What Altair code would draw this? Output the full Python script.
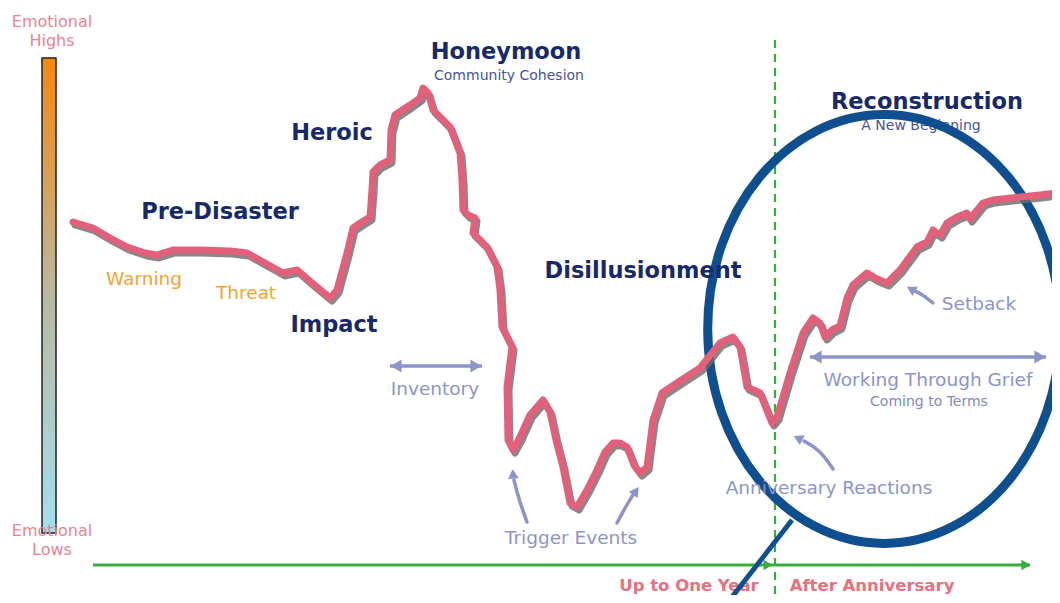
import altair as alt
import pandas as pd

# ---- data (time position, emotional level as drawn) ----
curve_t = [73, 93, 110, 127, 145, 157, 173, 200, 230, 247, 265, 283, 297, 312, 330, 337, 347, 353, 362, 370,
           372, 373, 380, 390, 391, 395, 410, 420, 423, 428, 433, 450, 460, 462, 463, 468, 475, 473, 487, 497,
           500, 502, 512, 507, 508, 513, 520, 530, 543, 550, 556, 563, 570, 577, 587, 597, 605, 613, 620, 627,
           634, 640, 647, 653, 662, 680, 700, 720, 733, 740, 747, 760, 772, 777, 790, 803, 813, 820, 825, 832,
           840, 847, 853, 867, 877, 887, 900, 917, 927, 933, 940, 947, 957, 967, 970, 983, 993, 1020, 1040, 1057]
curve_v = [222, 228, 238, 247, 253, 255, 250, 250, 251, 253, 263, 273, 270, 283, 298, 290, 253, 228, 222, 217,
           190, 172, 165, 160, 130, 115, 105, 98, 88, 93, 110, 127, 153, 180, 210, 215, 218, 233, 247, 267,
           290, 327, 347, 387, 440, 450, 437, 415, 400, 412, 440, 467, 503, 507, 490, 470, 452, 443, 443, 447,
           465, 473, 467, 420, 393, 381, 368, 343, 337, 347, 387, 393, 423, 417, 373, 333, 318, 323, 337, 330,
           326, 298, 285, 273, 279, 283, 270, 247, 242, 230, 235, 223, 217, 213, 219, 203, 200, 197, 195, 193]

stage_labels = ["Pre-Disaster", "Heroic", "Honeymoon", "Impact", "Disillusionment", "Reconstruction"]
stage_t = [220, 332, 506, 334, 643, 927]
stage_v = [212, 133, 52, 325, 271, 102]

sub_labels = ["Community Cohesion", "A New Beginning"]
sub_t = [509, 921]
sub_v = [76, 126]

coming_labels = ["Coming to Terms"]
coming_t = [929]
coming_v = [402]

warn_labels = ["Warning", "Threat"]
warn_t = [144, 246]
warn_v = [279, 293]

note_labels = ["Inventory", "Trigger Events", "Anniversary Reactions", "Working Through Grief", "Setback"]
note_t = [435, 571, 829, 928, 979]
note_v = [389, 538, 488, 380, 304]

period_labels = ["Up to One Year", "After Anniversary"]
period_t = [689, 872]
period_v = [586, 586]

scale_labels = ["Emotional", "Highs", "Emotional", "Lows"]
scale_t = [52, 52, 52, 52]
scale_v = [22, 41, 531, 550]

# double arrows (start, end, level)
span_name = ["Inventory", "Working Through Grief"]
span_t0 = [390, 810]
span_t1 = [482, 1046]
span_v = [366, 357]

# curved pointer arrows
ptr_id = ["trig1"] * 3 + ["trig2"] * 3 + ["anniv"] * 3 + ["setback"] * 3
ptr_t = [527, 519, 514, 617, 626, 633, 833, 820, 804, 933, 923, 915]
ptr_v = [522, 500, 480, 523, 506, 495, 469, 450, 441, 303, 295, 291]
tip_t = [513, 636, 798, 911]
tip_v = [474, 491, 438, 289]
tip_angle = [356, 35, 296, 300]

anniversary_t = 775
timeline_t0, timeline_t1, timeline_v = 93, 1030, 565

NAVY = "#17286b"
LAV = "#8b94cb"
PINK = "#e2607a"
GREEN = "#3aac3c"
BLUE = "#0f4f8f"

xs = alt.Scale(domain=[8, 1052], nice=False, zero=False)
ys = alt.Scale(domain=[8, 595], nice=False, zero=False, reverse=True)


def X(f="t"):
    return alt.X(f"{f}:Q", scale=xs, axis=None)


def Y(f="v"):
    return alt.Y(f"{f}:Q", scale=ys, axis=None)


curve = pd.DataFrame({"t": curve_t, "v": curve_v, "i": range(len(curve_t))})

# gradient scale bar
bar = alt.Chart(pd.DataFrame({"t": [42], "t2": [56], "v": [58], "v2": [533]})).mark_rect(
    stroke="#222222", strokeWidth=1.5,
    color=alt.Gradient(gradient="linear", x1=0, y1=0, x2=0, y2=1,
                       stops=[alt.GradientStop(offset=0, color="#f7880a"),
                              alt.GradientStop(offset=0.5, color="#b9b8a0"),
                              alt.GradientStop(offset=1, color="#a3dff0")])
).encode(x=X(), x2="t2:Q", y=Y(), y2="v2:Q")


def texts(labels, ts, vs, **kw):
    df = pd.DataFrame({"label": labels, "t": ts, "v": vs})
    return alt.Chart(df).mark_text(baseline="middle", align="center", **kw).encode(
        x=X(), y=Y(), text="label:N")


scale_txt = texts(scale_labels, scale_t, scale_v, font="DejaVu Sans", fontSize=16, color="#ea8391")
stage_txt = texts(stage_labels, stage_t, stage_v, font="DejaVu Sans", fontSize=22.5, fontWeight="bold", color=NAVY)
sub_txt = texts(sub_labels, sub_t, sub_v, font="DejaVu Sans", fontSize=14, color="#44549a")
coming_txt = texts(coming_labels, coming_t, coming_v, font="DejaVu Sans", fontSize=14, color="#7f89c2")
warn_txt = texts(warn_labels, warn_t, warn_v, font="DejaVu Sans", fontSize=18.5, color="#f0a52e")
note_txt = texts(note_labels, note_t, note_v, font="DejaVu Sans", fontSize=18.5, color=LAV)
period_txt = texts(period_labels, period_t, period_v, font="DejaVu Sans", fontSize=16.5, fontWeight="bold",
                   color="#e8707f")

# timeline
timeline = alt.Chart(pd.DataFrame({"t": [timeline_t0], "t2": [timeline_t1], "v": [timeline_v]})).mark_rule(
    color=GREEN, strokeWidth=3).encode(x=X(), x2="t2:Q", y=Y())
timeline_tips = alt.Chart(pd.DataFrame({"t": [anniversary_t - 7, timeline_t1 - 4], "v": [timeline_v] * 2})).mark_point(
    shape="triangle-right", filled=True, color=GREEN, size=110, opacity=1).encode(x=X(), y=Y())
anniv_line = alt.Chart(pd.DataFrame({"t": [anniversary_t], "v": [40], "v2": [603]})).mark_rule(
    color=GREEN, strokeWidth=2.2, strokeDash=[8, 6]).encode(x=X(), y=Y(), y2="v2:Q")

# double arrows
spans = pd.DataFrame({"name": span_name, "t": span_t0, "t2": span_t1, "v": span_v})
span_rule = alt.Chart(spans).mark_rule(color=LAV, strokeWidth=3.5).encode(x=X(), x2="t2:Q", y=Y())
left_tips = alt.Chart(pd.DataFrame({"t": [a + 6 for a in span_t0], "v": span_v})).mark_point(
    shape="triangle-left", filled=True, color=LAV, size=170, opacity=1).encode(x=X(), y=Y())
right_tips = alt.Chart(pd.DataFrame({"t": [a - 6 for a in span_t1], "v": span_v})).mark_point(
    shape="triangle-right", filled=True, color=LAV, size=170, opacity=1).encode(x=X(), y=Y())

# curved pointers
ptrs = pd.DataFrame({"id": ptr_id, "t": ptr_t, "v": ptr_v, "i": range(len(ptr_t))})
ptr_lines = alt.Chart(ptrs).mark_line(color=LAV, strokeWidth=3.5, interpolate="basis", strokeCap="round").encode(
    x=X(), y=Y(), detail="id:N", order="i:Q")
ptr_tips = alt.Chart(pd.DataFrame({"t": tip_t, "v": tip_v, "a": tip_angle})).mark_point(
    shape="triangle-up", filled=True, color=LAV, size=120, opacity=1).encode(
    x=X(), y=Y(), angle=alt.Angle("a:Q", scale=None))

# magnifier ellipse + handle
ellipse_path = "M -0.822 0 A 0.822 1 0 1 1 0.822 0 A 0.822 1 0 1 1 -0.822 0 Z"
ellipse = alt.Chart(pd.DataFrame({"t": [884], "v": [329]})).mark_point(
    shape=ellipse_path, size=184000, filled=False, stroke=BLUE, strokeWidth=9, opacity=1).encode(x=X(), y=Y())
handle = alt.Chart(pd.DataFrame({"t": [792], "t2": [718], "v": [520], "v2": [615]})).mark_rule(
    color=BLUE, strokeWidth=5).encode(x=X(), x2="t2:Q", y=Y(), y2="v2:Q")

# emotional curve with shadow
shadow = alt.Chart(curve).mark_line(color="#6a6a6a", strokeWidth=7, xOffset=2, yOffset=3, opacity=0.8,
                                    strokeJoin="round", strokeCap="round").encode(x=X(), y=Y(), order="i:Q")
line = alt.Chart(curve).mark_line(color=PINK, strokeWidth=7, strokeJoin="round", strokeCap="round").encode(
    x=X(), y=Y(), order="i:Q")

chart = alt.layer(
    bar, scale_txt, timeline, timeline_tips, anniv_line, period_txt, sub_txt, coming_txt, ellipse, handle,
    stage_txt, warn_txt, note_txt, span_rule, left_tips, right_tips, ptr_lines, ptr_tips,
    shadow, line
).properties(
    width=1044, height=587, autosize=alt.AutoSizeParams(type="none"), padding=0, background="white"
).configure_view(stroke=None)

chart.save("out.html", embed_options={"renderer": "svg", "actions": False})
